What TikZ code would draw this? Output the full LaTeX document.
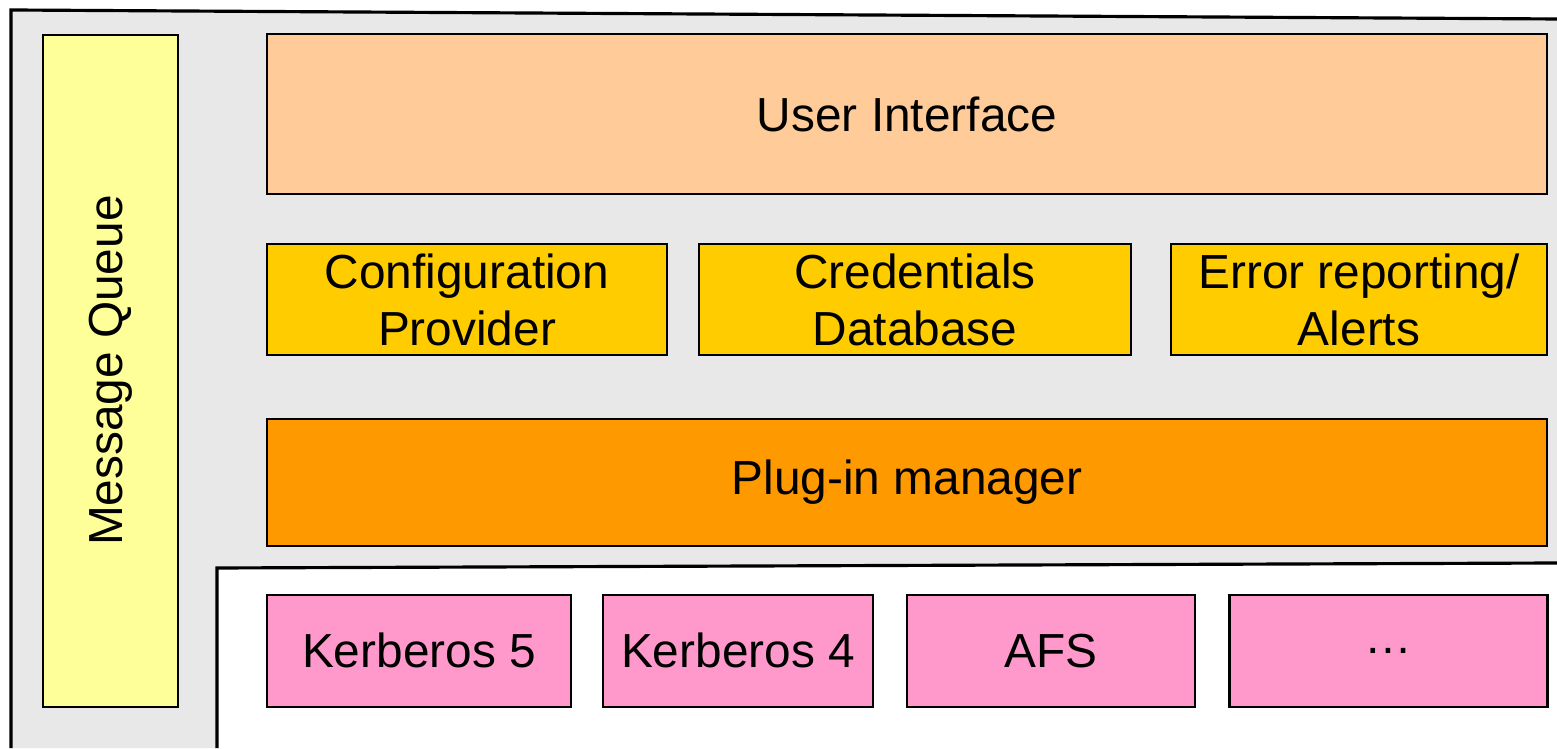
\documentclass[tikz,border=0pt]{standalone}
\usepackage{fontspec}
\setmainfont{Liberation Sans}
\definecolor{bggray}{HTML}{E8E8E8}
\definecolor{mqyellow}{HTML}{FFFF99}
\definecolor{uipeach}{HTML}{FFCC99}
\definecolor{svcgold}{HTML}{FFCC00}
\definecolor{pluginorange}{HTML}{FF9900}
\definecolor{modpink}{HTML}{FF99CC}
\tikzset{
  layer/.style={draw=black,line width=0.6pt,inner sep=0pt,align=center,
    font=\fontsize{13.6}{16.2}\selectfont},
  service/.style={layer,fill=svcgold,minimum height=1.11cm},
  module/.style={layer,fill=modpink,minimum height=1.12cm}
}
\begin{document}
\begin{tikzpicture}
\useasboundingbox (0,0) rectangle (15.57,7.48);
%\draw[step=0.5cm,gray,very thin] (0,0) grid (15.5,7.5); %background grid
\fill[bggray] (0.11,0) -- (0.11,7.38) -- (15.57,7.29) -- (15.57,1.85) -- (2.17,1.80) -- (2.17,0) -- cycle;
\draw[line width=0.9pt] (0.11,0) -- (0.11,7.38) -- (15.57,7.29);
\draw[line width=0.9pt] (15.57,1.85) -- (2.17,1.80) -- (2.17,0);
\node[layer,fill=mqyellow,rotate=90,minimum width=6.72cm,minimum height=1.35cm] (mq) at (1.105,3.774) {Message Queue};
\node[layer,fill=uipeach,minimum width=12.8cm,minimum height=1.595cm] (ui) at (9.07,6.34) {User Interface};
\node[service,minimum width=4cm] (config) at (4.67,4.485) {Configuration\\Provider};
\node[service,minimum width=4.325cm] (creds) at (9.15,4.485) {Credentials\\Database};
\node[service,minimum width=3.765cm] (errors) at (13.59,4.485) {Error reporting/\\Alerts};
\node[layer,fill=pluginorange,minimum width=12.8cm,minimum height=1.27cm] (plugin) at (9.07,2.655) {Plug-in manager};
\node[module,minimum width=3.04cm] (krb5) at (4.19,0.974) {Kerberos 5};
\node[module,minimum width=2.7cm] (krb4) at (7.38,0.974) {Kerberos 4};
\node[module,minimum width=2.885cm] (afs) at (10.51,0.974) {AFS};
\node[module,minimum width=3.18cm] (more) at (13.885,0.974) {…};
\end{tikzpicture}
\end{document}
